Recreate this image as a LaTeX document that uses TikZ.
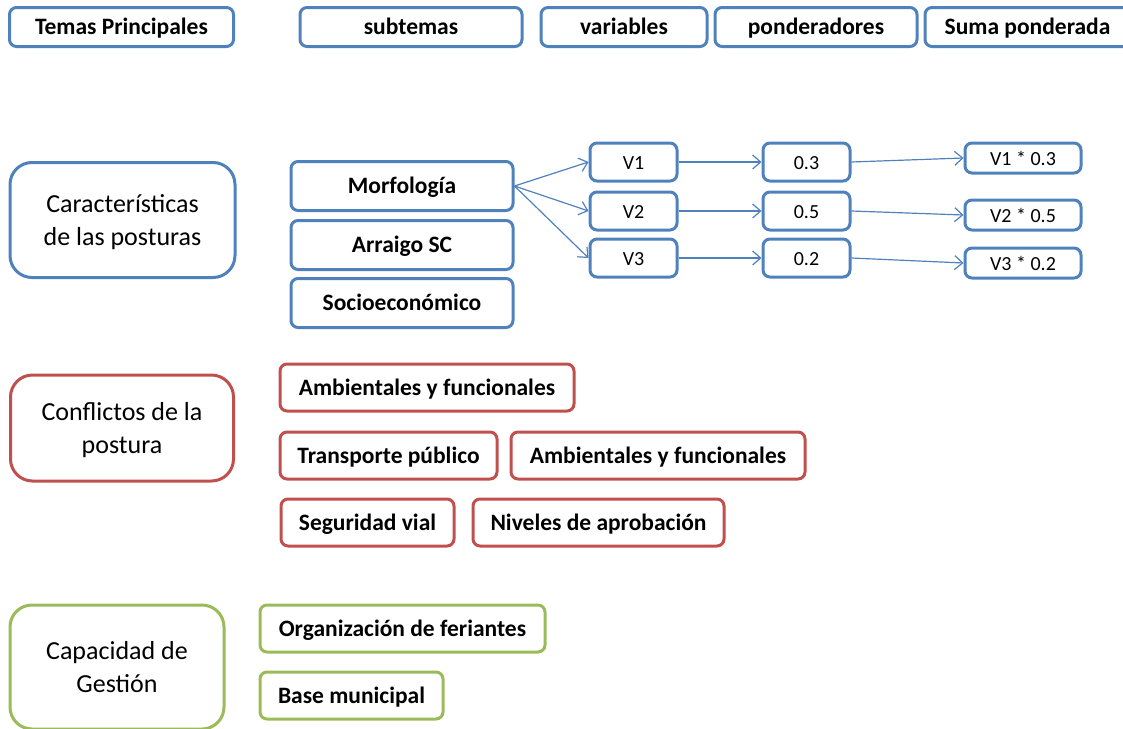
\documentclass[tikz,border=0pt]{standalone}
\usepackage{fontspec}
\setmainfont{Carlito}
\usetikzlibrary{arrows.meta}
\definecolor{bblue}{HTML}{4F81BD}
\definecolor{bred}{HTML}{C0504D}
\definecolor{bgreen}{HTML}{9BBB59}
\tikzset{
  box/.style={draw=#1, line width=3pt, rounded corners=7pt, fill=white, inner sep=0pt, align=center, text=black},
  big/.style={draw=#1, line width=3pt, rounded corners=22pt, fill=white, inner sep=0pt, align=center, text=black,
     font=\fontsize{26}{33}\selectfont, text depth=0pt},
  lbl/.style={font=\fontsize{23.5}{28}\selectfont\bfseries, text height=15pt, text depth=0pt},
  sml/.style={font=\fontsize{20}{24}\selectfont, text height=15pt, text depth=0pt},
  sz/.style 2 args={minimum width=#1pt, minimum height=#2pt},
  conn/.style={draw=bblue, line width=1.2pt, -{Straight Barb[length=8pt,width=14pt,line width=1.2pt]}},
}
\begin{document}
\begin{tikzpicture}[x=1pt,y=-1pt]
\useasboundingbox (0,0) rectangle (1123,728);
% header row
\node[box=bblue, lbl, sz={224}{39}] (h1) at (121.5,27) {Temas Principales};
\node[box=bblue, lbl, sz={222}{39}] (h2) at (411,27) {subtemas};
\node[box=bblue, lbl, sz={166}{39}] (h3) at (624,27) {variables};
\node[box=bblue, lbl, sz={202}{39}] (h4) at (816,27) {ponderadores};
\node[box=bblue, lbl, sz={205}{39}] (h5) at (1027.5,27) {Suma ponderada};
% características
\node[big=bblue, sz={225}{115}] (c) at (122.5,220) {Características\\de las posturas};
\node[box=bblue, lbl, sz={222}{49}] (m) at (402,186) {Morfología};
\node[box=bblue, lbl, sz={222}{49}] (a) at (402,245) {Arraigo SC};
\node[box=bblue, lbl, sz={222}{49}] (s) at (402,303) {Socioeconómico};
\node[box=bblue, sml, sz={87}{38}] (v1) at (633.5,162) {V1};
\node[box=bblue, sml, sz={87}{38}] (v2) at (633.5,211) {V2};
\node[box=bblue, sml, sz={87}{38}] (v3) at (633.5,258) {V3};
\node[box=bblue, sml, sz={87}{38}] (p1) at (806.5,162) {0.3};
\node[box=bblue, sml, sz={87}{38}] (p2) at (806.5,211) {0.5};
\node[box=bblue, sml, sz={87}{38}] (p3) at (806.5,258) {0.2};
\node[box=bblue, sml, sz={116}{30}] (r1) at (1023,158) {V1 * 0.3};
\node[box=bblue, sml, sz={116}{30}] (r2) at (1023,215) {V2 * 0.5};
\node[box=bblue, sml, sz={116}{30}] (r3) at (1023,263) {V3 * 0.2};
\draw[conn] (m.east) -- (v1.west);
\draw[conn] (m.east) -- (v2.west);
\draw[conn] (m.east) -- (v3.west);
\draw[conn] (v1.east) -- (p1.west);
\draw[conn] (v2.east) -- (p2.west);
\draw[conn] (v3.east) -- (p3.west);
\draw[conn] (p1.east) -- (r1.west);
\draw[conn] (p2.east) -- (r2.west);
\draw[conn] (p3.east) -- (r3.west);
% conflictos
\node[big=bred, sz={223}{106}] (k) at (122,428) {Conflictos de la\\postura};
\node[box=bred, lbl, sz={294}{47}] (k1) at (427,387.5) {Ambientales y funcionales};
\node[box=bred, lbl, sz={217}{47}] (k2) at (388.5,455.5) {Transporte público};
\node[box=bred, lbl, sz={294}{47}] (k3) at (658,455.5) {Ambientales y funcionales};
\node[box=bred, lbl, sz={173}{47}] (k4) at (367.5,522.5) {Seguridad vial};
\node[box=bred, lbl, sz={251}{47}] (k5) at (598.5,522.5) {Niveles de aprobación};
% capacidad
\node[big=bgreen, sz={214}{124}] (g) at (117,667) {Capacidad de\\Gestión};
\node[box=bgreen, lbl, sz={285}{47}] (g1) at (402.5,628.5) {Organización de feriantes};
\node[box=bgreen, lbl, sz={183}{47}] (g2) at (351.5,695.5) {Base municipal};
\end{tikzpicture}
\end{document}
